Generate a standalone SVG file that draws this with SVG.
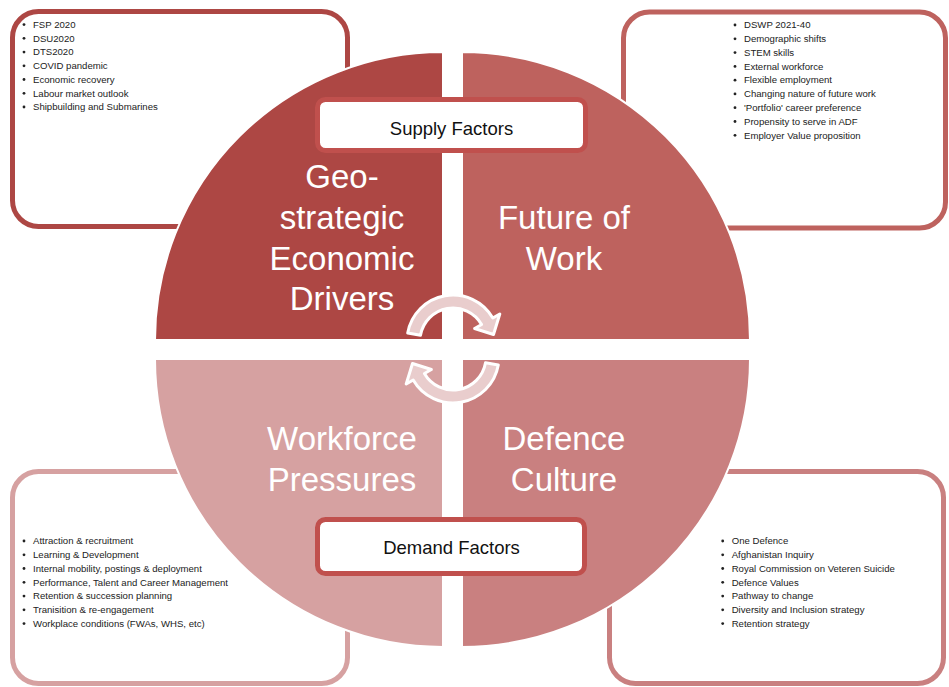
<svg xmlns="http://www.w3.org/2000/svg" width="949" height="687" viewBox="0 0 949 687">
<style>
.box{fill:#fff;stroke-width:5}
.q{stroke:#fff;stroke-width:2}
.lbl{fill:#fff;stroke:#C0504D;stroke-width:5}
.big{font-family:"Liberation Sans",Arial,sans-serif;font-size:33px;fill:#fff;text-anchor:middle}
.hdr{font-family:"Liberation Sans",Arial,sans-serif;font-size:18.5px;fill:#111;text-anchor:middle}
.sm{font-family:"Liberation Sans",Arial,sans-serif;font-size:9.6px;fill:#222}
.arr{fill:#E9CDCD;stroke:#fff;stroke-width:3;stroke-linejoin:round}
.dot{fill:#222}
</style>
<defs>
<path id="carrow" d="M -45.3,-8 A 46 46 0 0 1 39.8,-23 L 46.8,-27 L 40.5,-6.5 L 21.6,-12.5 L 28.6,-16.5 A 33 33 0 0 0 -32.5,-5.7 Z"/>
<circle id="b" r="1.4"/>
</defs>
<rect width="949" height="687" fill="#fff"/>

<g id="box-tl">
<rect class="box" x="12.5" y="11.5" width="335" height="215" rx="26" stroke="#AD4744"/>
<g class="sm">
<text x="33" y="27.8">FSP 2020</text>
<text x="33" y="41.5">DSU2020</text>
<text x="33" y="55.3">DTS2020</text>
<text x="33" y="69">COVID pandemic</text>
<text x="33" y="82.7">Economic recovery</text>
<text x="33" y="96.5">Labour market outlook</text>
<text x="33" y="110.2">Shipbuilding and Submarines</text>
</g>
<g class="dot">
<use href="#b" x="24" y="24.6"/><use href="#b" x="24" y="38.3"/><use href="#b" x="24" y="52.1"/><use href="#b" x="24" y="65.8"/><use href="#b" x="24" y="79.5"/><use href="#b" x="24" y="93.3"/><use href="#b" x="24" y="107"/>
</g>
</g>

<g id="box-tr">
<rect class="box" x="623.5" y="12" width="322" height="216" rx="26" stroke="#BE625E"/>
<g class="sm">
<text x="744" y="28.2">DSWP 2021-40</text>
<text x="744" y="42">Demographic shifts</text>
<text x="744" y="55.8">STEM skills</text>
<text x="744" y="69.6">External workforce</text>
<text x="744" y="83.4">Flexible employment</text>
<text x="744" y="97.1">Changing nature of future work</text>
<text x="744" y="110.9">'Portfolio' career preference</text>
<text x="744" y="124.7">Propensity to serve in ADF</text>
<text x="744" y="138.5">Employer Value proposition</text>
</g>
<g class="dot">
<use href="#b" x="735" y="25"/><use href="#b" x="735" y="38.8"/><use href="#b" x="735" y="52.6"/><use href="#b" x="735" y="66.4"/><use href="#b" x="735" y="80.2"/><use href="#b" x="735" y="93.9"/><use href="#b" x="735" y="107.7"/><use href="#b" x="735" y="121.5"/><use href="#b" x="735" y="135.3"/>
</g>
</g>

<g id="box-bl">
<rect class="box" x="12.5" y="471.5" width="335" height="212" rx="26" stroke="#D6A1A1"/>
<g class="sm">
<text x="33" y="544.2">Attraction &amp; recruitment</text>
<text x="33" y="558">Learning &amp; Development</text>
<text x="33" y="571.7">Internal mobility, postings &amp; deployment</text>
<text x="33" y="585.5">Performance, Talent and Career Management</text>
<text x="33" y="599.3">Retention &amp; succession planning</text>
<text x="33" y="613">Tranisition &amp; re-engagement</text>
<text x="33" y="626.8">Workplace conditions (FWAs, WHS, etc)</text>
</g>
<g class="dot">
<use href="#b" x="24" y="541"/><use href="#b" x="24" y="554.8"/><use href="#b" x="24" y="568.5"/><use href="#b" x="24" y="582.3"/><use href="#b" x="24" y="596.1"/><use href="#b" x="24" y="609.8"/><use href="#b" x="24" y="623.6"/>
</g>
</g>

<g id="box-br">
<rect class="box" x="609.5" y="471.5" width="334" height="212" rx="26" stroke="#C98080"/>
<g class="sm">
<text x="731.7" y="544.2">One Defence</text>
<text x="731.7" y="558">Afghanistan Inquiry</text>
<text x="731.7" y="571.7">Royal Commission on Veteren Suicide</text>
<text x="731.7" y="585.5">Defence Values</text>
<text x="731.7" y="599.3">Pathway to change</text>
<text x="731.7" y="613">Diversity and Inclusion strategy</text>
<text x="731.7" y="626.8">Retention strategy</text>
</g>
<g class="dot">
<use href="#b" x="722.7" y="541"/><use href="#b" x="722.7" y="554.8"/><use href="#b" x="722.7" y="568.5"/><use href="#b" x="722.7" y="582.3"/><use href="#b" x="722.7" y="596.1"/><use href="#b" x="722.7" y="609.8"/><use href="#b" x="722.7" y="623.6"/>
</g>
</g>

<g id="q-geo">
<path class="q" fill="#AD4744" d="M 443 340 L 155 340 A 288 288 0 0 1 443 52 Z"/>
<text class="big" x="342" y="188">Geo-</text>
<text class="big" x="342" y="229">strategic</text>
<text class="big" x="342" y="270">Economic</text>
<text class="big" x="342" y="310">Drivers</text>
</g>
<g id="q-work">
<path class="q" fill="#BE625E" d="M 462 340 L 462 52 A 288 288 0 0 1 750 340 Z"/>
<text class="big" x="564" y="229">Future of</text>
<text class="big" x="564" y="270">Work</text>
</g>
<g id="q-pressures">
<path class="q" fill="#D6A1A1" d="M 443 359 L 443 647 A 288 288 0 0 1 155 359 Z"/>
<text class="big" x="342" y="450">Workforce</text>
<text class="big" x="342" y="491">Pressures</text>
</g>
<g id="q-culture">
<path class="q" fill="#C98080" d="M 462 359 L 750 359 A 288 288 0 0 1 462 647 Z"/>
<text class="big" x="564" y="450">Defence</text>
<text class="big" x="564" y="491">Culture</text>
</g>

<g id="supply">
<rect class="lbl" x="317.5" y="99.5" width="268" height="51" rx="8"/>
<text class="hdr" x="451.5" y="135">Supply Factors</text>
</g>
<g id="demand">
<rect class="lbl" x="317.5" y="519.5" width="267" height="54" rx="8"/>
<text class="hdr" x="451.5" y="554">Demand Factors</text>
</g>

<g id="connectors">
<use href="#carrow" class="arr" transform="translate(453,341)"/>
<use href="#carrow" class="arr" transform="translate(453,357) rotate(180)"/>
</g>
</svg>
